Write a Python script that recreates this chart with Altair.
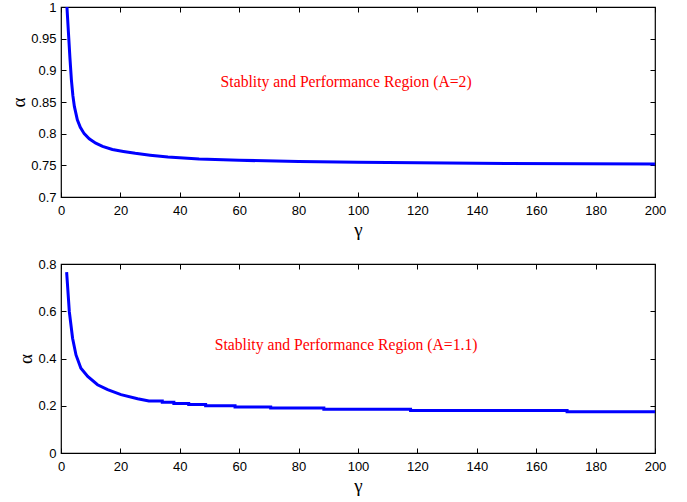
import altair as alt
import pandas as pd

# Top panel (A=2)
gamma_top = [2.0, 2.5, 3.0, 3.5, 4.0, 4.5, 5.5, 6.5, 7.8, 9.5, 11.7, 14, 17.3, 21, 25, 30, 36, 46.5, 60, 80, 100, 120, 150, 200]
alpha_top = [1.0, 0.96, 0.92, 0.885, 0.86, 0.843, 0.822, 0.81, 0.8, 0.792, 0.785, 0.78, 0.775, 0.772, 0.769, 0.766, 0.763, 0.76, 0.758, 0.756, 0.755, 0.754, 0.753, 0.752]

# Bottom panel (A=1.1)
gamma_bot = [1.9, 2.8, 3.9, 5.05, 6.7, 9.0, 12.3, 15.7, 20.2, 25.8, 29.6, 34.1, 34.1, 38, 38, 43, 43, 48.7, 48.7,
             58.6, 58.6, 70.6, 70.6, 88.5, 88.5, 117.7, 117.7, 170.4, 170.4, 200]
alpha_bot = [0.766, 0.598, 0.486, 0.415, 0.359, 0.324, 0.289, 0.268, 0.247, 0.23, 0.22, 0.22, 0.215, 0.215, 0.21, 0.21, 0.205, 0.205, 0.2,
             0.2, 0.195, 0.195, 0.19, 0.19, 0.185, 0.185, 0.18, 0.18, 0.175, 0.175]

x_ticks = [0, 20, 40, 60, 80, 100, 120, 140, 160, 180, 200]
y_ticks_top = [0.7, 0.75, 0.8, 0.85, 0.9, 0.95, 1.0]
y_ticks_bot = [0, 0.2, 0.4, 0.6, 0.8]

label_top = "Stablity and Performance Region (A=2)"
label_bot = "Stablity and Performance Region (A=1.1)"
label_pos_top = (96, 0.873)
label_pos_bot = (96, 0.437)

LABEL_FONT = "Liberation Sans"
SERIF = "Liberation Serif"


def panel(gammas, alphas, ydomain, yticks, yfmt, label, pos, height):
    df = pd.DataFrame({"g": gammas, "a": alphas, "i": list(range(len(gammas)))})
    xs = alt.Scale(domain=[0, 200], nice=False, zero=False)
    ys = alt.Scale(domain=ydomain, nice=False, zero=False)
    line = alt.Chart(df).mark_line(color="#0000ff", strokeWidth=3, clip=True).encode(
        x=alt.X("g:Q", scale=xs, axis=alt.Axis(
            orient="bottom", values=x_ticks, title="γ", offset=-5, domain=False,
            tickSize=5, tickColor="black", labelPadding=7, labelFont=LABEL_FONT,
            labelFontSize=13, labelColor="black", labelFlush=False, labelOverlap=False,
            titleFont=SERIF, titleFontSize=19,
            titleFontWeight="normal", titlePadding=3, titleColor="black", grid=False)),
        y=alt.Y("a:Q", scale=ys, axis=alt.Axis(
            orient="left", values=yticks, format=yfmt, title="α", offset=-5, domain=False,
            tickSize=5, tickColor="black", labelPadding=5, labelFont=LABEL_FONT,
            labelFontSize=13, labelColor="black", labelFlush=False, labelOverlap=False,
            titleFont=SERIF, titleFontSize=19,
            titleFontWeight="normal", titlePadding=2, titleColor="black", grid=False)),
        order="i:Q",
    )
    tdf = pd.DataFrame({"x": [pos[0]], "y": [pos[1]], "t": [label]})
    text = alt.Chart(tdf).mark_text(
        font=SERIF, fontSize=15.7, color="#ff0000", align="center", baseline="alphabetic"
    ).encode(
        x=alt.X("x:Q", scale=xs, axis=alt.Axis(
            orient="top", values=x_ticks, labels=False, title=None, offset=-5,
            domain=False, tickSize=5, tickColor="black", grid=False)),
        y=alt.Y("y:Q", scale=ys, axis=alt.Axis(
            orient="right", values=yticks, labels=False, title=None, offset=-5,
            domain=False, tickSize=5, tickColor="black", grid=False)),
        text="t:N",
    )
    return alt.layer(line, text).properties(width=594, height=height)


top = panel(gamma_top, alpha_top, [0.7, 1.0], y_ticks_top, ".2~f", label_top, label_pos_top, 190)
bot = panel(gamma_bot, alpha_bot, [0, 0.8], y_ticks_bot, ".1~f", label_bot, label_pos_bot, 189)

chart = alt.vconcat(top, bot, spacing=67, bounds="flush").properties(
    padding={"left": 9, "top": 0, "right": 0, "bottom": 0},
    background="white",
).configure_view(stroke="black", strokeWidth=1.2)

chart.save("out.html", embed_options={"renderer": "svg", "actions": False})
